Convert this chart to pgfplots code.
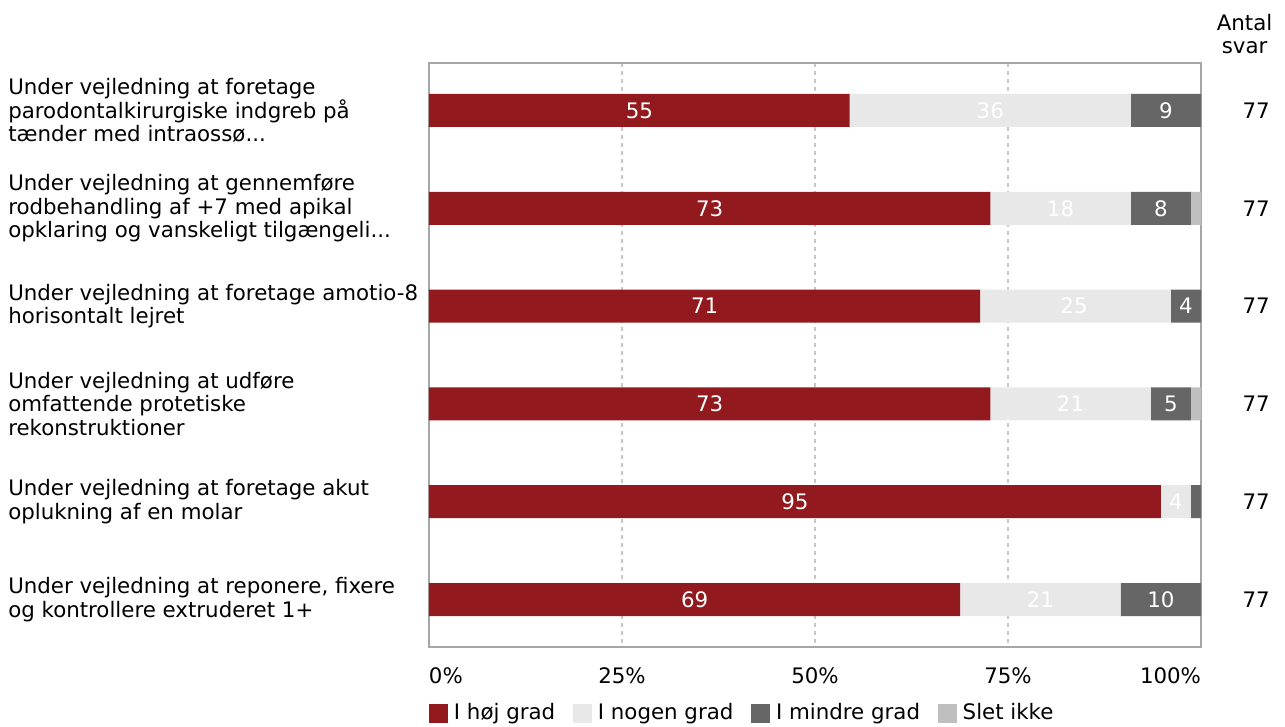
\documentclass[border=0pt]{standalone}
\usepackage{pgfplots}
\usepackage{pgfplotstable}
\pgfplotsset{compat=1.18}
\usepackage{fontspec}
\setmainfont{DejaVu Sans}
\definecolor{cRed}{HTML}{921A1F}
\definecolor{cLight}{HTML}{E8E8E8}
\definecolor{cDark}{HTML}{666666}
\definecolor{cSlet}{HTML}{BFBFBF}
\definecolor{cGrid}{HTML}{C8C8C8}
\definecolor{cFrame}{HTML}{A6A6A6}
\pgfplotstableread{
y hoj nogen mindre slet
1 54.5 36.4 9.1 0
2 72.7 18.2 7.8 1.3
3 71.4 24.7 3.9 0
4 72.7 20.8 5.2 1.3
5 94.8 3.9 1.3 0
6 68.8 20.8 10.4 0
}\data
\pgfplotstableread{
x y l
27.25 1 55
72.7 1 36
95.45 1 9
36.35 2 73
81.8 2 18
94.8 2 8
35.7 3 71
83.55 3 25
98.05 3 4
36.35 4 73
83.1 4 21
96.1 4 5
47.4 5 95
96.75 5 4
34.4 6 69
79.2 6 21
94.8 6 10
}\labels
\pgfplotstableread{
x y n
108.94 1 77
108.94 2 77
108.94 3 77
108.94 4 77
108.94 5 77
108.94 6 77
}\counts
\newcommand\ff{\fontsize{16pt}{17.6pt}\selectfont}
\newcommand\dd{.{}.{}.}
\begin{document}
\ff
\begin{tikzpicture}[font=\ff]
\path[use as bounding box] (0,0) rectangle (963.75pt,-545.25pt);
\begin{axis}[
  scale only axis, width=579pt, height=438pt,
  at={(321.75pt,-485.25pt)}, anchor=south west,
  xbar stacked, bar width=24.75pt,
  xmin=0, xmax=100, ymin=0.515, ymax=6.485, y dir=reverse,
  ytick={1,2,3,4,5,6},
  yticklabels={
    {Under vejledning at foretage\\parodontalkirurgiske indgreb på\\tænder med intraossø\dd},
    {Under vejledning at gennemføre\\rodbehandling af +7 med apikal\\opklaring og vanskeligt tilgængeli\dd},
    {Under vejledning at foretage amotio-8\\horisontalt lejret},
    {Under vejledning at udføre\\omfattende protetiske\\rekonstruktioner},
    {Under vejledning at foretage akut\\oplukning af en molar},
    {Under vejledning at reponere, fixere\\og kontrollere extruderet 1+}},
  yticklabel style={anchor=west, inner sep=0pt, xshift=-315.75pt, align=left, font=\ff, text=black},
  xtick={0,25,50,75,100},
  xticklabels={{\makebox[0pt][l]{0\%}},25\%,50\%,75\%,{\makebox[0pt][r]{100\%}}},
  xticklabel style={anchor=center, yshift=-21.5pt, font=\ff, text=black},
  major tick length=0pt,
  xmajorgrids, grid style={cGrid, dashed, line width=0.8pt},
  axis line style={cFrame, line width=1pt},
  legend style={draw=none, at={(0,0)}, anchor=west, yshift=-49.5pt, inner sep=0pt,
    legend columns=-1, font=\ff,
    /tikz/every odd column/.append style={column sep=2.25pt},
    /tikz/every even column/.append style={column sep=11.5pt}},
  legend image code/.code={\path[#1] (0pt,-7.125pt) rectangle (14.25pt,7.125pt);},
]
\addplot[fill=cRed, draw=none] table[x=hoj, y=y] {\data};
\addplot[fill=cLight, draw=none] table[x=nogen, y=y] {\data};
\addplot[fill=cDark, draw=none] table[x=mindre, y=y] {\data};
\addplot[fill=cSlet, draw=none] table[x=slet, y=y] {\data};
\legend{I høj grad, I nogen grad, I mindre grad, Slet ikke}
\end{axis}
\begin{axis}[
  scale only axis, width=579pt, height=438pt,
  at={(321.75pt,-485.25pt)}, anchor=south west,
  xmin=0, xmax=100, ymin=0.515, ymax=6.485, y dir=reverse,
  hide axis, clip=false,
]
\addplot[draw=none, mark=none, nodes near coords, point meta=explicit symbolic,
  every node near coord/.append style={anchor=center, text=white, font=\ff}]
  table[x=x, y=y, meta=l] {\labels};
\addplot[draw=none, mark=none, nodes near coords, point meta=explicit symbolic,
  every node near coord/.append style={anchor=east, text=black, font=\ff, inner sep=0pt}]
  table[x=x, y=y, meta=n] {\counts};
\end{axis}
\node[align=center, inner sep=0pt, font=\ff] at (933.4pt,-25.5pt) {Antal\\svar};
\end{tikzpicture}
\end{document}
